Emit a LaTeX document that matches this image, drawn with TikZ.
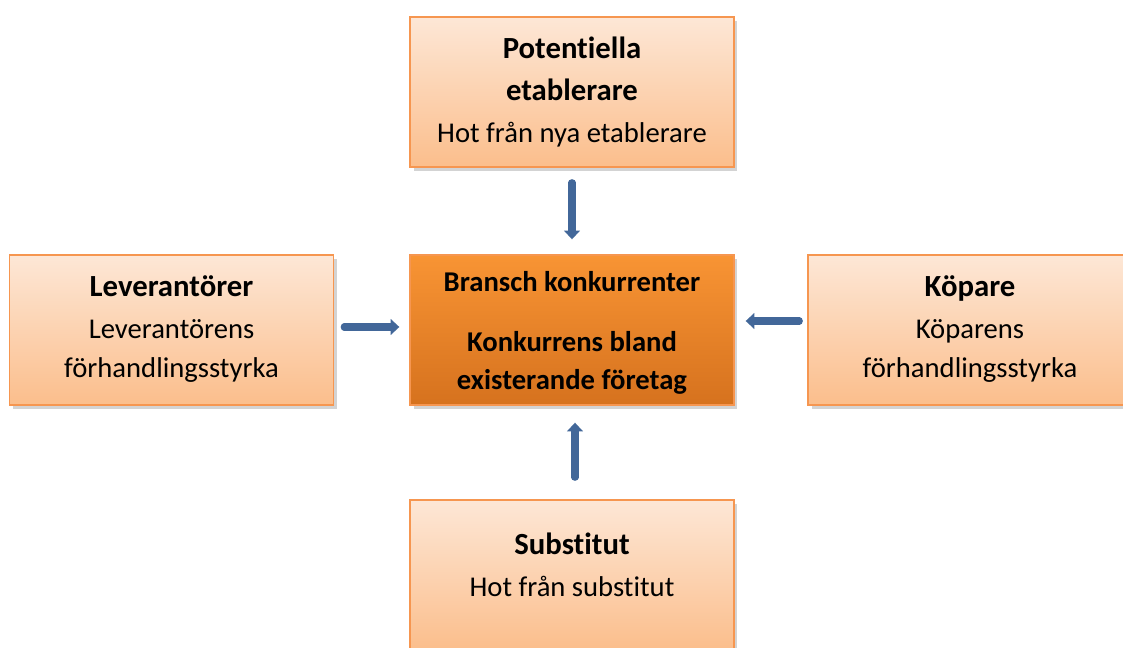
\documentclass[tikz,border=0pt]{standalone}
\usepackage{fontspec}
\setmainfont{Carlito}[Ligatures=NoCommon]
\usetikzlibrary{arrows.meta,shadows}

\definecolor{peachtop}{RGB}{253,231,214}
\definecolor{peachbot}{RGB}{251,190,140}
\definecolor{orangetop}{RGB}{248,148,52}
\definecolor{orangebot}{RGB}{214,114,30}
\definecolor{boxline}{RGB}{246,150,80}
\definecolor{arrowblue}{RGB}{66,103,153}

\tikzset{
    forcebox/.style={draw=boxline, line width=0.8pt, top color=peachtop, bottom color=peachbot,
        minimum width=6.48cm, minimum height=3cm, align=center, inner sep=0pt,
        drop shadow={opacity=0.35, shadow xshift=2pt, shadow yshift=-2.5pt},
        font=\fontsize{16.3}{22}\selectfont},
    rivalbox/.style={forcebox, top color=orangetop, bottom color=orangebot},
    force/.style={draw=arrowblue, line width=4pt, line cap=round,
        -{Triangle[width=9pt,length=5pt]}}
}
\newcommand{\boxtitle}[1]{{\fontsize{17.5}{25.5}\selectfont\bfseries #1}}

\begin{document}
\begin{tikzpicture}[x=0.02cm, y=-0.02cm]
    \useasboundingbox (0,0) rectangle (1123,648);
    \clip (0,0) rectangle (1123,648);

    \node [forcebox] (entrants) at (572,92) {\boxtitle{Potentiella}\\[2pt] \boxtitle{etablerare}\\[2pt] Hot från nya etablerare};
    \node [rivalbox] (rivals) at (572,330) {\mbox{}\\[-7pt] \bfseries Bransch konkurrenter\\[12pt] \bfseries Konkurrens bland\\ \bfseries existerande företag};
    \node [forcebox] (suppliers) at (171.5,330) {\boxtitle{Leverantörer}\\[2pt] Leverantörens\\ förhandlingsstyrka\\[-18pt]\mbox{}};
    \node [forcebox] (buyers) at (970,330) {\boxtitle{Köpare}\\[2pt] Köparens\\ förhandlingsstyrka\\[-18pt]\mbox{}};
    \node [forcebox] (substitutes) at (572,575) {\boxtitle{Substitut}\\[2pt] Hot från substitut\\[-10.5pt]\mbox{}};

    \draw [force, shorten <=0.3cm, shorten >=0.3cm] (entrants) -- (rivals);
    \draw [force, shorten <=0.2cm, shorten >=0.2cm] ([yshift=0.06cm]suppliers.east) -- ([yshift=0.06cm]rivals.west);
    \draw [force, shorten <=0.16cm, shorten >=0.22cm] ([yshift=0.18cm]buyers.west) -- ([yshift=0.18cm]rivals.east);
    \draw [force, shorten <=0.44cm, shorten >=0.34cm] ([xshift=0.06cm]substitutes.north) -- ([xshift=0.06cm]rivals.south);
\end{tikzpicture}
\end{document}
